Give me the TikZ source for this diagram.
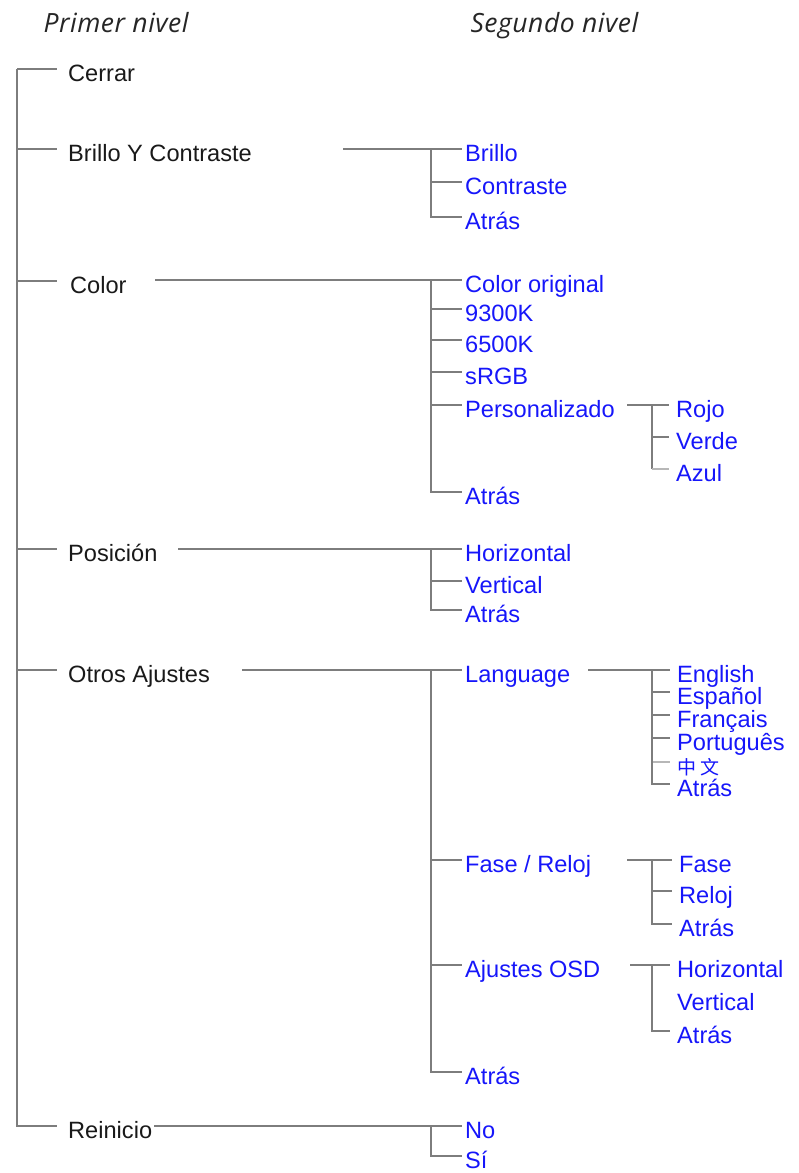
\documentclass[tikz,border=0pt]{standalone}
\usepackage{fontspec}
\setmainfont{Liberation Sans}
\newfontfamily\headfont[LetterSpace=2]{Open Sans}
\newfontfamily\cjkfont{Noto Sans CJK SC}
\usetikzlibrary{positioning}
\definecolor{menublue}{RGB}{22,22,250}
\definecolor{linegray}{RGB}{125,125,125}

\begin{document}
\begin{tikzpicture}[x=1pt, y=-1pt,
        first/.style={anchor=west, inner ysep=0pt, inner xsep=11pt, text height=24.5pt, text depth=0pt,
                      font=\fontsize{23.6}{25}\selectfont, text=black!90},
        second/.style={first, inner xsep=3pt, text=menublue},
        third/.style={first, inner xsep=7pt, text=menublue},
        heading/.style={anchor=base west, font=\headfont\itshape\fontsize{26.5}{30}\selectfont, text=black!85},
        link/.style={draw=linegray, line width=1.4pt},
        faint/.style={draw=linegray!55, line width=1.4pt}
    ]
    \useasboundingbox (0,0) rectangle (799,1173);

    % Titoli
    \node[heading] (primer) at (40,32) {Primer nivel};
    \node[heading] (segundo) at (467,32) {Segundo nivel};

    % Primo livello
    \coordinate (root) at (17,69);
    \node[first] (cerrar) at (57,69) {Cerrar};
    \node[first] (brilloContraste) at (57,149) {Brillo Y Contraste};
    \node[first] (color) at (59,281) {Color};
    \node[first] (posicion) at (57,549) {Posición};
    \node[first] (otros) at (57,670) {Otros Ajustes};
    \node[first] (reinicio) at (57,1126) {Reinicio};

    \draw[link] (root) -- (cerrar.west);
    \draw[link] (root) |- (brilloContraste.west);
    \draw[link] (root) |- ([xshift=-2pt]color.west);
    \draw[link] (root) |- (posicion.west);
    \draw[link] (root) |- (otros.west);
    \draw[link] (root) |- (reinicio.west);

    % Brillo Y Contraste
    \coordinate (bcOut) at (343,149);
    \coordinate (bcTrunk) at (431,149);
    \node[second] (brillo) at (462,149) {Brillo};
    \node[second] (contraste) at (462,182) {Contraste};
    \node[second] (atrasBrillo) at (462,217) {Atrás};
    \draw[link] (bcOut) -- (brillo.west);
    \draw[link] (bcTrunk) |- (contraste.west);
    \draw[link] (bcTrunk) |- (atrasBrillo.west);

    % Color
    \coordinate (colorOut) at (155,280);
    \coordinate (colorTrunk) at (431,280);
    \node[second] (colorOriginal) at (462,280) {Color original};
    \node[second] (k9300) at (462,309) {9300K};
    \node[second] (k6500) at (462,340) {6500K};
    \node[second] (srgb) at (462,372) {sRGB};
    \node[second] (personal) at (462,405) {Personalizado};
    \node[second] (atrasColor) at (462,492) {Atrás};
    \draw[link] (colorOut) -- (colorOriginal.west);
    \foreach \n in {k9300, k6500, srgb, personal, atrasColor}
        \draw[link] (colorTrunk) |- (\n.west);

    % Personalizado
    \coordinate (persOut) at (627,405);
    \coordinate (persTrunk) at (652,405);
    \node[third] (rojo) at (669,405) {Rojo};
    \node[third] (verde) at (669,437) {Verde};
    \node[third] (azul) at (669,469) {Azul};
    \draw[link] (persOut) -- (rojo.west);
    \draw[link] (persTrunk) |- (verde.west);
    \draw[link] (persTrunk) -- (persTrunk |- azul.west);
    \draw[faint] (persTrunk |- azul.west) -- (azul.west);

    % Posicion
    \coordinate (posOut) at (178,549);
    \coordinate (posTrunk) at (431,549);
    \node[second] (horizontal) at (462,549) {Horizontal};
    \node[second] (vertical) at (462,581) {Vertical};
    \node[second] (atrasPos) at (462,610) {Atrás};
    \draw[link] (posOut) -- (horizontal.west);
    \draw[link] (posTrunk) |- (vertical.west);
    \draw[link] (posTrunk) |- (atrasPos.west);

    % Otros Ajustes
    \coordinate (otrosOut) at (242,670);
    \coordinate (otrosTrunk) at (431,670);
    \node[second] (language) at (462,670) {Language};
    \node[second] (faseReloj) at (462,860) {Fase / Reloj};
    \node[second] (ajustesOSD) at (462,965) {Ajustes OSD};
    \node[second] (atrasOtros) at (462,1072) {Atrás};
    \draw[link] (otrosOut) -- (language.west);
    \foreach \n in {faseReloj, ajustesOSD, atrasOtros}
        \draw[link] (otrosTrunk) |- (\n.west);

    % Language
    \coordinate (langOut) at (588,670);
    \coordinate (langTrunk) at (652,670);
    \node[third] (english) at (670,670) {English};
    \node[third] (espanol) at (670,692) {Español};
    \node[third] (francais) at (670,715) {Français};
    \node[third] (portugues) at (670,738) {Português};
    \node[third, font=\cjkfont\fontsize{19}{21}\selectfont] (chino) at (670,762) {中 文};
    \node[third] (atrasLang) at (670,784) {Atrás};
    \draw[link] (langOut) -- (english.west);
    \foreach \n in {espanol, francais, portugues}
        \draw[link] (langTrunk) |- (\n.west);
    \draw[faint] (langTrunk |- chino.west) -- (chino.west);
    \draw[link] (langTrunk) |- (atrasLang.west);

    % Fase / Reloj
    \coordinate (faseOut) at (627,860);
    \coordinate (faseTrunk) at (652,860);
    \node[third] (fase) at (672,860) {Fase};
    \node[third] (reloj) at (672,891) {Reloj};
    \node[third] (atrasFase) at (672,924) {Atrás};
    \draw[link] (faseOut) -- (fase.west);
    \draw[link] (faseTrunk) |- (reloj.west);
    \draw[link] (faseTrunk) |- (atrasFase.west);

    % Ajustes OSD
    \coordinate (osdOut) at (630,965);
    \coordinate (osdTrunk) at (652,965);
    \node[third] (osdHorizontal) at (670,965) {Horizontal};
    \node[third] (osdVertical) at (670,998) {Vertical};
    \node[third] (atrasOSD) at (670,1031) {Atrás};
    \draw[link] (osdOut) -- (osdHorizontal.west);
    \draw[link] (osdTrunk) |- (atrasOSD.west);

    % Reinicio
    \coordinate (reiTrunk) at (431,1126);
    \node[second] (no) at (462,1126) {No};
    \node[second] (si) at (462,1156) {Sí};
    \draw[link] ([xshift=-9pt]reinicio.east) -- (no.west);
    \draw[link] (reiTrunk) |- (si.west);
\end{tikzpicture}
\end{document}
